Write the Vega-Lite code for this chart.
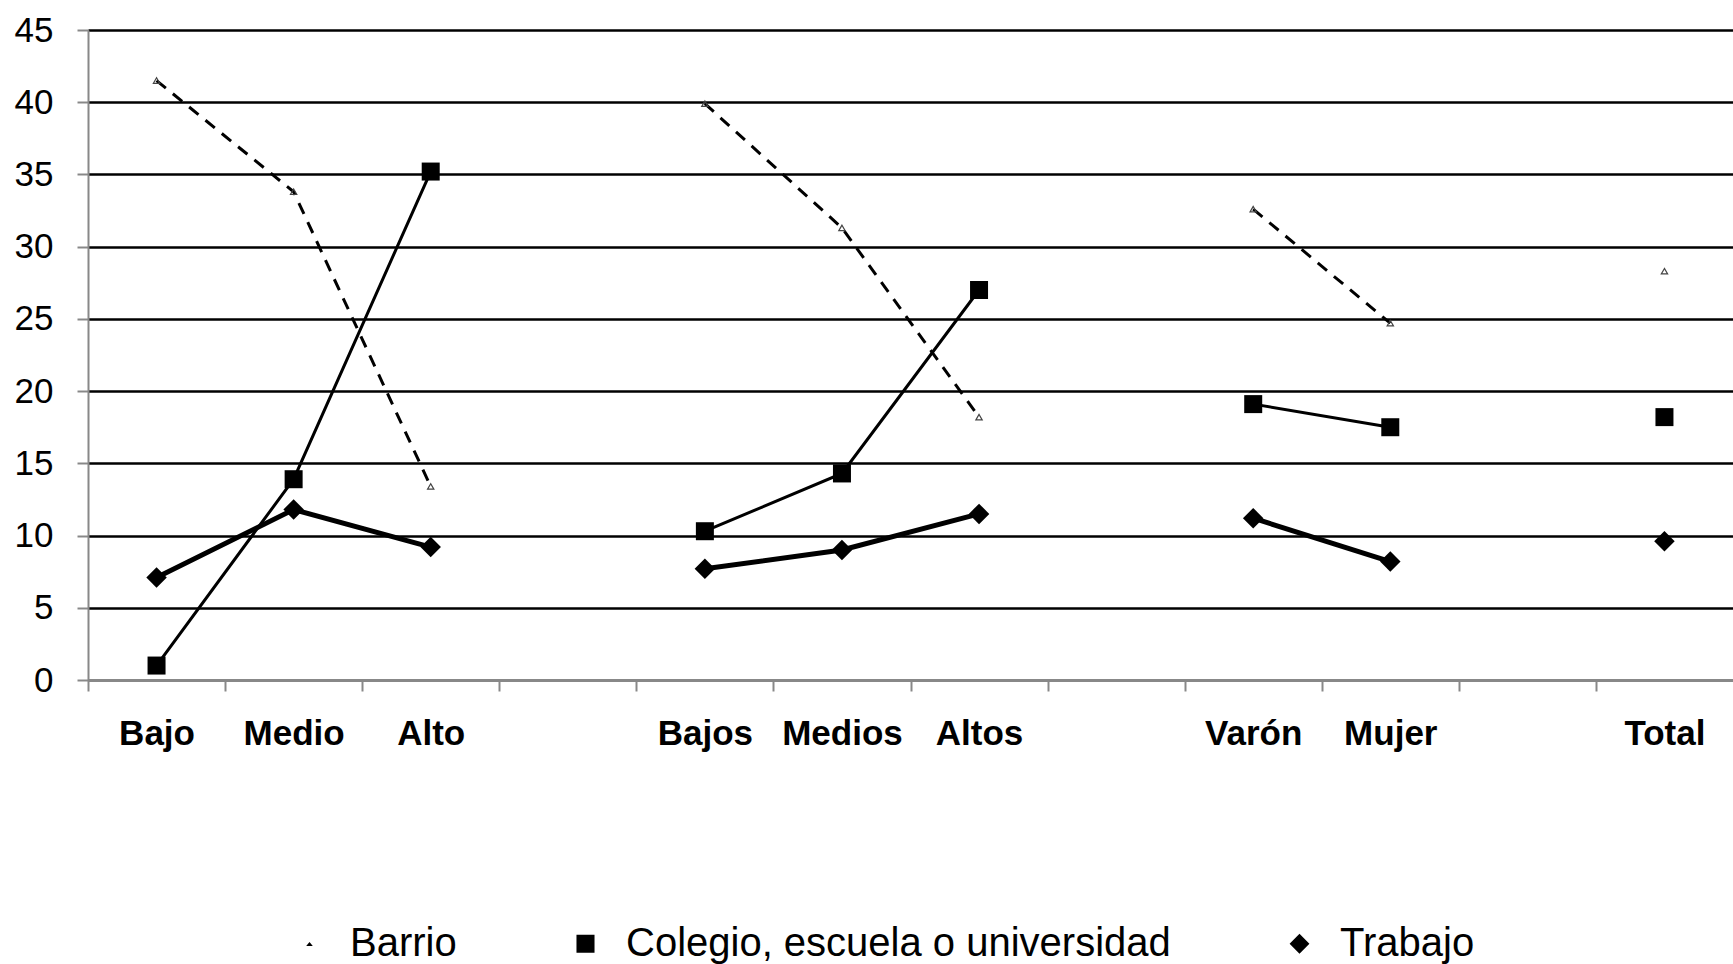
{
  "$schema": "https://vega.github.io/schema/vega-lite/v6.json",
  "width": 1645,
  "height": 650,
  "autosize": {"type": "none"},
  "padding": {"left": 88, "top": 30, "right": 0, "bottom": 284},
  "background": "white",
  "config": {
    "view": {"stroke": null}
  },
  "datasets": {
    "valores": [
      {"serie": "Barrio", "cat": "Bajo", "grupo": "edu", "valor": 41.5},
      {"serie": "Barrio", "cat": "Medio", "grupo": "edu", "valor": 33.8},
      {"serie": "Barrio", "cat": "Alto", "grupo": "edu", "valor": 13.4},
      {"serie": "Barrio", "cat": "Bajos", "grupo": "eco", "valor": 39.9},
      {"serie": "Barrio", "cat": "Medios", "grupo": "eco", "valor": 31.3},
      {"serie": "Barrio", "cat": "Altos", "grupo": "eco", "valor": 18.2},
      {"serie": "Barrio", "cat": "Varón", "grupo": "sexo", "valor": 32.6},
      {"serie": "Barrio", "cat": "Mujer", "grupo": "sexo", "valor": 24.7},
      {"serie": "Barrio", "cat": "Total", "grupo": "total", "valor": 28.3},
      {"serie": "Colegio, escuela o universidad", "cat": "Bajo", "grupo": "edu", "valor": 1.0},
      {"serie": "Colegio, escuela o universidad", "cat": "Medio", "grupo": "edu", "valor": 13.9},
      {"serie": "Colegio, escuela o universidad", "cat": "Alto", "grupo": "edu", "valor": 35.2},
      {"serie": "Colegio, escuela o universidad", "cat": "Bajos", "grupo": "eco", "valor": 10.3},
      {"serie": "Colegio, escuela o universidad", "cat": "Medios", "grupo": "eco", "valor": 14.3},
      {"serie": "Colegio, escuela o universidad", "cat": "Altos", "grupo": "eco", "valor": 27.0},
      {"serie": "Colegio, escuela o universidad", "cat": "Varón", "grupo": "sexo", "valor": 19.1},
      {"serie": "Colegio, escuela o universidad", "cat": "Mujer", "grupo": "sexo", "valor": 17.5},
      {"serie": "Colegio, escuela o universidad", "cat": "Total", "grupo": "total", "valor": 18.2},
      {"serie": "Trabajo", "cat": "Bajo", "grupo": "edu", "valor": 7.1},
      {"serie": "Trabajo", "cat": "Medio", "grupo": "edu", "valor": 11.8},
      {"serie": "Trabajo", "cat": "Alto", "grupo": "edu", "valor": 9.2},
      {"serie": "Trabajo", "cat": "Bajos", "grupo": "eco", "valor": 7.7},
      {"serie": "Trabajo", "cat": "Medios", "grupo": "eco", "valor": 9.0},
      {"serie": "Trabajo", "cat": "Altos", "grupo": "eco", "valor": 11.5},
      {"serie": "Trabajo", "cat": "Varón", "grupo": "sexo", "valor": 11.2},
      {"serie": "Trabajo", "cat": "Mujer", "grupo": "sexo", "valor": 8.2},
      {"serie": "Trabajo", "cat": "Total", "grupo": "total", "valor": 9.6}
    ],
    "grupos": [
      {"etiqueta": "Capital educativo*", "cat": "Medio"},
      {"etiqueta": "Capital económico**", "cat": "Medios"}
    ],
    "grupo_sexo": [
      {"etiqueta": "Sexo", "cat": "Varón"}
    ]
  },
  "data": {"name": "valores"},
  "encoding": {
    "x": {
      "field": "cat", "type": "nominal",
      "scale": {"type": "band", "domain": ["Bajo","Medio","Alto"," ","Bajos","Medios","Altos","  ","Varón","Mujer","   ","Total"], "paddingInner": 0, "paddingOuter": 0},
      "axis": {
        "orient": "bottom", "title": null, "grid": false,
        "tickOffset": -68.5, "labelOffset": 68.5,
        "domainColor": "#888888", "domainWidth": 3, "tickColor": "#888888", "tickWidth": 2, "tickSize": 11,
        "labelPadding": 25, "labelFont": "Liberation Sans", "labelFontSize": 35, "labelFontWeight": "bold", "labelColor": "black",
        "labelAngle": 0, "labelOverlap": false
      }
    },
    "y": {
      "field": "valor", "type": "quantitative",
      "scale": {"domain": [0, 45], "nice": false, "zero": true},
      "axis": {
        "title": null, "values": [0,5,10,15,20,25,30,35,40,45],
        "labelFont": "Liberation Sans", "labelFontSize": 35, "labelColor": "black", "labelPadding": 24,
        "domainColor": "#888888", "domainWidth": 2, "tickColor": "#888888", "tickWidth": 2, "tickSize": 11,
        "grid": true, "gridColor": "black", "gridWidth": 2.5
      }
    }
  },
  "layer": [
    {
      "transform": [{"filter": "datum.serie === 'Barrio'"}],
      "mark": {"type": "line", "color": "black", "strokeWidth": 3, "strokeDash": [12, 9]},
      "encoding": {"detail": {"field": "grupo", "type": "nominal"}}
    },
    {
      "transform": [{"filter": "datum.serie === 'Colegio, escuela o universidad'"}],
      "mark": {"type": "line", "color": "black", "strokeWidth": 3},
      "encoding": {"detail": {"field": "grupo", "type": "nominal"}}
    },
    {
      "transform": [{"filter": "datum.serie === 'Trabajo'"}],
      "mark": {"type": "line", "color": "black", "strokeWidth": 5},
      "encoding": {"detail": {"field": "grupo", "type": "nominal"}}
    },
    {
      "transform": [{"filter": "datum.serie === 'Colegio, escuela o universidad'"}],
      "mark": {"type": "point", "shape": "square", "filled": true, "color": "black", "size": 324, "opacity": 1},
      "encoding": {}
    },
    {
      "transform": [{"filter": "datum.serie === 'Trabajo'"}],
      "mark": {"type": "point", "shape": "diamond", "filled": true, "color": "black", "size": 420, "opacity": 1},
      "encoding": {}
    },
    {
      "transform": [{"filter": "datum.serie === 'Barrio'"}],
      "mark": {"type": "point", "shape": "triangle-up", "filled": false, "color": "#444444", "strokeWidth": 1.2, "size": 40, "opacity": 1},
      "encoding": {}
    },
    {
      "mark": {"type": "point", "filled": true, "color": "black", "opacity": 0},
      "encoding": {
        "shape": {
          "field": "serie", "type": "nominal",
          "scale": {
            "domain": ["Barrio", "Colegio, escuela o universidad", "Trabajo"],
            "range": [
              "M-1.6,0H-1.15M-0.85,0H-0.35M0.35,0H0.85M1.15,0H1.6M-0.15,0.1L0,-0.08L0.15,0.1",
              "M-1.6,0H-0.41M0.41,0H1.6M-0.41,-0.41H0.41V0.41H-0.41Z",
              "M-1.6,0H-0.45M0.45,0H1.6M-0.45,0L0,-0.45L0.45,0L0,0.45Z"
            ]
          },
          "legend": {
            "orient": "none", "legendX": 198, "legendY": 890, "direction": "horizontal",
            "title": null, "labelFont": "Liberation Sans", "labelFontSize": 40, "labelColor": "black", "labelLimit": 1000,
            "symbolSize": 1936, "symbolOpacity": 1, "symbolFillColor": "black", "symbolStrokeColor": "black", "symbolStrokeWidth": 3,
            "columnPadding": 87, "labelOffset": 17,
            "encode": {
              "symbols": {
                "update": {
                  "stroke": {"value": "black"},
                  "strokeWidth": {"value": 3},
                  "fill": {"value": "black"},
                  "opacity": {"value": 1}
                }
              }
            }
          }
        }
      }
    },
    {
      "data": {"name": "grupos"},
      "mark": {"type": "text", "font": "Liberation Sans", "fontSize": 40, "color": "black", "baseline": "middle", "align": "center"},
      "encoding": {
        "y": {"datum": -9.6},
        "text": {"field": "etiqueta"}
      }
    },
    {
      "data": {"name": "grupo_sexo"},
      "mark": {"type": "text", "font": "Liberation Sans", "fontSize": 40, "color": "black", "baseline": "middle", "align": "center", "dx": 69},
      "encoding": {
        "y": {"datum": -9.6},
        "text": {"field": "etiqueta"}
      }
    }
  ]
}
